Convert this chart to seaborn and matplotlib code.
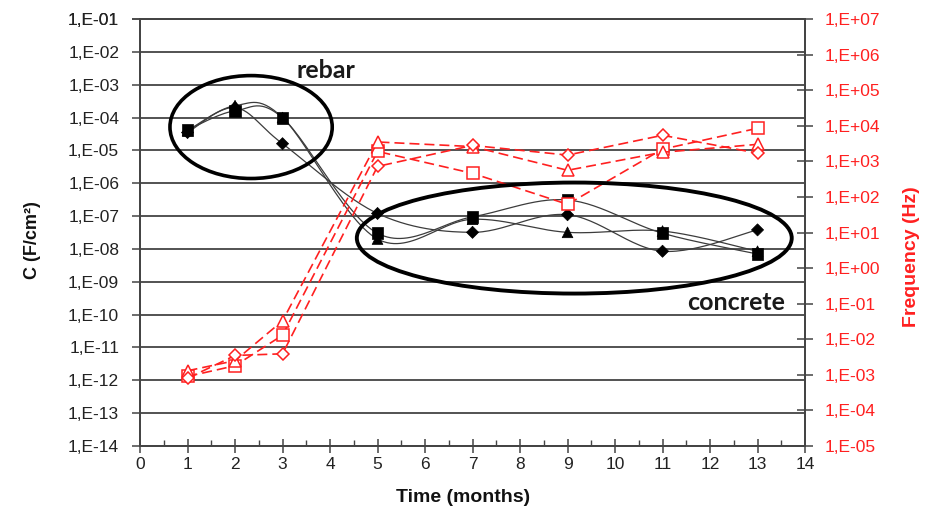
import numpy as np
import pandas as pd
import matplotlib
matplotlib.use("Agg")
import matplotlib.pyplot as plt
from matplotlib.patches import Ellipse
from matplotlib.ticker import FixedLocator, MultipleLocator, FuncFormatter
import seaborn as sns

# ---- data -------------------------------------------------------------
months = [1, 2, 3, 5, 7, 9, 11, 13]

# capacitance (F/cm2), left axis
cap_square = [4.2e-5, 1.6e-4, 9.8e-5, 3.0e-8, 9.5e-8, 3.1e-7, 3.0e-8, 7.0e-9]
cap_triangle = [4.0e-5, 2.3e-4, 1.0e-4, 2.0e-8, 8.0e-8, 3.2e-8, 3.5e-8, 8.5e-9]
cap_diamond = [3.5e-5, 2.0e-4, 1.6e-5, 1.2e-7, 3.2e-8, 1.1e-7, 8.5e-9, 3.8e-8]

# characteristic frequency (Hz), right axis
freq_square = [9.0e-4, 1.8e-3, 1.3e-2, 1.9e3, 4.6e2, 6.2e1, 2.2e3, 8.5e3]
freq_triangle = [1.3e-3, 2.5e-3, 3.3e-2, 3.5e3, 2.6e3, 5.6e2, 1.8e3, 3.0e3]
freq_diamond = [8.0e-4, 3.5e-3, 3.9e-3, 7.2e2, 2.8e3, 1.5e3, 5.4e3, 1.7e3]

cap_exponents = list(range(-14, 0))
freq_exponents = list(range(-5, 8))

RED = "#FF2020"
GRID = "#444444"

cap_df = pd.concat([
    pd.DataFrame({"month": months, "C": cap_diamond, "series": "diamond"}),
    pd.DataFrame({"month": months, "C": cap_triangle, "series": "triangle"}),
    pd.DataFrame({"month": months, "C": cap_square, "series": "square"}),
])
freq_df = pd.concat([
    pd.DataFrame({"month": months, "f": freq_square, "series": "square"}),
    pd.DataFrame({"month": months, "f": freq_triangle, "series": "triangle"}),
    pd.DataFrame({"month": months, "f": freq_diamond, "series": "diamond"}),
])
marker_map = {"square": "s", "triangle": "^", "diamond": "D"}


def smooth_log(x, y, n=30):
    """Bezier smoothing (Catmull-Rom style) in (x, log10 y) space."""
    x = np.asarray(x, float)
    ly = np.log10(np.asarray(y, float))
    pts = np.column_stack([x, ly])
    out = []
    for i in range(len(pts) - 1):
        p0 = pts[max(i - 1, 0)]
        p1 = pts[i]
        p2 = pts[i + 1]
        p3 = pts[min(i + 2, len(pts) - 1)]
        c1 = p1 + (p2 - p0) / 6.0
        c2 = p2 - (p3 - p1) / 6.0
        t = np.linspace(0, 1, n)[:, None]
        seg = ((1 - t) ** 3) * p1 + 3 * ((1 - t) ** 2) * t * c1 + 3 * (1 - t) * t ** 2 * c2 + t ** 3 * p2
        out.append(seg if i == 0 else seg[1:])
    seg = np.vstack(out)
    return seg[:, 0], 10 ** seg[:, 1]


sns.set_theme(style="white")
plt.rcParams["font.family"] = ["Liberation Sans", "DejaVu Sans"]

fig = plt.figure(figsize=(9.43, 5.14), dpi=100)
ax = fig.add_axes([0.1485, 0.1323, 0.7052, 0.8307])
ax2 = ax.twinx()

# ---- capacitance: smoothed thin lines + filled black markers ------------
for name, grp in cap_df.groupby("series", sort=False):
    sx, sy = smooth_log(grp["month"], grp["C"])
    ax.plot(sx, sy, color="#3c3c3c", lw=0.9, zorder=3)
sns.scatterplot(data=cap_df, x="month", y="C", style="series", markers=marker_map,
                size="series", sizes={"square": 70, "triangle": 60, "diamond": 38},
                color="black", edgecolor="black", legend=False, ax=ax, zorder=4)

# ---- frequency: dashed red lines + open markers -----------------------
sns.lineplot(data=freq_df, x="month", y="f", style="series", markers=marker_map,
             dashes={"square": (6, 3), "triangle": (6, 3), "diamond": (6, 3)},
             color=RED, lw=1.2, markersize=9, markerfacecolor="white",
             markeredgecolor=RED, markeredgewidth=1.1, errorbar=None,
             legend=False, ax=ax2, sort=True)
for ln in ax2.lines:
    if ln.get_marker() == "D":
        ln.set_markersize(6.5)

# ---- axes ---------------------------------------------------------------
ax.set_yscale("log")
ax2.set_yscale("log")
ax.set_xlim(0, 14)
ax.set_ylim(1e-14, 1e-1)
ax2.set_ylim(1e-5, 1e7)

ax.xaxis.set_major_locator(MultipleLocator(1))
ax.xaxis.set_minor_locator(MultipleLocator(0.5))
ax.yaxis.set_major_locator(FixedLocator([10.0 ** e for e in cap_exponents + [-1]]))
ax.yaxis.set_minor_locator(FixedLocator([]))
ax2.yaxis.set_major_locator(FixedLocator([10.0 ** e for e in freq_exponents]))
ax2.yaxis.set_minor_locator(FixedLocator([]))

fmt = FuncFormatter(lambda v, p: "1,E{:+03d}".format(int(round(np.log10(v)))))
ax.yaxis.set_major_formatter(fmt)
ax2.yaxis.set_major_formatter(fmt)
ax.xaxis.set_major_formatter(FuncFormatter(lambda v, p: f"{int(v)}"))

ax.grid(False)
ax2.grid(False)
ax.yaxis.grid(True, which="major", color=GRID, lw=1.3)

for side in ["left", "right", "bottom", "top"]:
    ax.spines[side].set_color(GRID)
    ax.spines[side].set_linewidth(1.3)
    ax2.spines[side].set_color(GRID)
    ax2.spines[side].set_linewidth(1.3)

ax.tick_params(axis="y", which="major", direction="out", length=6, width=1.1,
               color=GRID, pad=9, labelsize=12.5, labelcolor="#222222", left=True)
ax.tick_params(axis="x", which="major", direction="inout", length=10, width=1.1,
               color=GRID, pad=3, labelsize=12.5, labelcolor="#222222", bottom=True)
ax.tick_params(axis="x", which="minor", direction="in", length=4, width=1.0,
               color=GRID, bottom=True)
ax2.tick_params(axis="y", which="major", direction="inout", length=12, width=1.1,
                color=GRID, pad=8, labelsize=12.5, labelcolor=RED, right=True)

ax.set_xlabel("Time (months)", fontsize=14, fontweight="bold", color="#111111")
ax.set_ylabel("C (F/cm²)", fontsize=13, fontweight="bold", color="#111111")
ax2.set_ylabel("Frequency (Hz)", fontsize=14, fontweight="bold", color=RED)
ax.xaxis.set_label_coords(0.486, -0.10)
ax.yaxis.set_label_coords(-0.149, 0.482)
ax2.yaxis.set_label_coords(1.147, 0.443)

# ---- annotations --------------------------------------------------------
ax2.add_patch(Ellipse((0.167, 0.747), 0.244, 0.241, transform=ax.transAxes,
                      fill=False, ec="black", lw=2.6, zorder=6))
ax2.add_patch(Ellipse((0.653, 0.487), 0.654, 0.26, transform=ax.transAxes,
                      fill=False, ec="black", lw=2.8, zorder=6))
ax2.text(0.28, 0.88, "rebar", transform=ax.transAxes, ha="center", va="center",
         fontsize=18, fontweight="bold", family=["Lato", "DejaVu Sans"], color="#1a1a1a")
ax2.text(0.896, 0.335, "concrete", transform=ax.transAxes, ha="center", va="center",
         fontsize=18, fontweight="bold", family=["Lato", "DejaVu Sans"], color="#1a1a1a")

fig.savefig("out.png", dpi=100, facecolor="white")
